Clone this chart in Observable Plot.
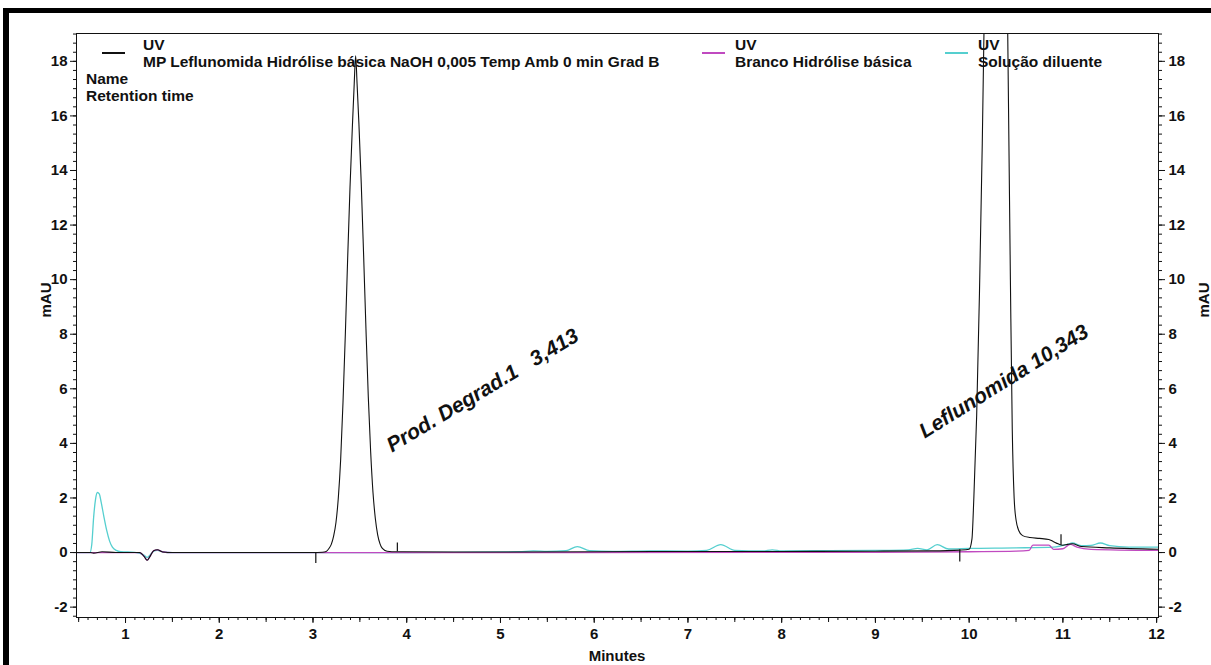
<!DOCTYPE html>
<html>
<head>
<meta charset="utf-8">
<script src="https://cdn.jsdelivr.net/npm/d3@7"></script>
<script src="https://cdn.jsdelivr.net/npm/@observablehq/plot@0.6"></script>
<style>
  html, body { margin: 0; padding: 0; background: #fff; }
  #wrap { position: relative; width: 1211px; height: 665px; overflow: hidden; font-family: "Liberation Sans", Arial, sans-serif; font-weight: bold; }
  .ov { position: absolute; font-size: 15.5px; line-height: 17px; color: #111; white-space: nowrap; }
  .sw { position: absolute; height: 2px; width: 23px; }
  .bar { position: absolute; background: #000; }
</style>
</head>
<body>
<div id="wrap"></div>
<script>
// ---- data ----
const seriesNames = ["MP Leflunomida Hidrólise básica NaOH 0,005 Temp Amb 0 min Grad B", "Branco Hidrólise básica", "Solução diluente"];
const seriesColors = ["#111111", "#c04ac0", "#55cfcf"];

// MP Leflunomida (black) : [minutes, mAU]
const traceMP = [
  [0.48,0.0],[0.62,0.0],[0.66,-0.02],[0.75,0.03],[0.9,0.0],[1.15,0.0],[1.2,-0.15],[1.23,-0.28],[1.26,-0.15],[1.3,0.07],[1.34,0.1],[1.4,0.02],[1.5,0.0],
  [2.0,0.0],[2.7,0.0],[3.0,0.0],[3.1,0.01],[3.14,0.04],[3.17,0.15],[3.195,0.3],[3.22,0.6],[3.245,1.1],[3.27,2.0],[3.295,3.4],
  [3.32,5.5],[3.345,8.0],[3.37,10.8],[3.395,13.4],[3.42,15.6],[3.44,17.2],[3.455,18.2],[3.47,17.2],[3.49,15.7],[3.515,13.5],[3.54,10.9],
  [3.565,8.2],[3.59,5.7],[3.615,3.7],[3.64,2.2],[3.665,1.25],[3.69,0.65],[3.715,0.32],[3.74,0.15],[3.79,0.05],[3.9,0.03],
  [4.5,0.02],[5.0,0.02],[6.0,0.03],[7.0,0.04],[8.0,0.04],[9.0,0.05],[9.6,0.06],[9.9,0.09],[10.0,0.12],
  [10.03,0.5],[10.05,2.0],[10.08,5.0],[10.11,9.5],[10.14,15.0],[10.16,19.5],[10.2,32],[10.25,52],[10.285,60],
  [10.32,55],[10.36,38],[10.41,19.5],[10.44,10.0],[10.46,4.5],[10.48,2.0],[10.5,1.2],[10.53,0.8],[10.57,0.62],
  [10.65,0.55],[10.75,0.52],[10.85,0.48],[10.9,0.4],[10.95,0.32],[11.0,0.27],[11.05,0.3],[11.1,0.32],[11.2,0.22],[11.5,0.17],[12.02,0.12]
];
// Branco Hidrólise básica (magenta)
const traceBranco = [
  [0.48,0.0],[1.15,0.0],[1.2,-0.15],[1.23,-0.28],[1.26,-0.15],[1.3,0.07],[1.34,0.1],[1.4,0.02],[1.5,0.0],
  [5.0,0.0],[9.0,0.01],[10.0,0.03],[10.5,0.05],[10.64,0.08],[10.68,0.27],[10.85,0.27],[10.9,0.12],[11.0,0.14],[11.08,0.3],[11.15,0.2],[11.3,0.12],[12.02,0.08]
];
// Solução diluente (cyan)
const traceDiluente = [
  [0.48,0.0],[0.62,0.0],[0.64,0.3],[0.66,1.3],[0.68,1.95],[0.70,2.2],[0.72,2.15],[0.74,1.85],[0.77,1.3],[0.80,0.8],[0.83,0.42],[0.86,0.2],[0.9,0.08],[0.95,0.03],
  [1.1,0.01],[1.2,-0.1],[1.23,-0.18],[1.26,-0.1],[1.3,0.05],[1.34,0.08],[1.4,0.02],[1.5,0.0],
  [2.0,0.0],[3.0,0.0],[4.0,0.0],[4.5,0.01],[5.2,0.03],[5.35,0.06],[5.5,0.04],[5.7,0.07],[5.82,0.22],[5.95,0.07],[6.2,0.04],[6.6,0.06],
  [7.0,0.05],[7.2,0.08],[7.35,0.29],[7.5,0.08],[7.8,0.06],[7.9,0.1],[8.0,0.06],[8.5,0.07],[9.0,0.08],[9.35,0.1],[9.45,0.15],[9.55,0.1],
  [9.66,0.29],[9.78,0.13],[10.0,0.15],[10.5,0.17],[10.9,0.2],[11.05,0.3],[11.1,0.35],[11.2,0.25],[11.3,0.26],[11.4,0.35],[11.5,0.25],[11.7,0.2],[12.02,0.2]
];

// integration marks (black ticks on baseline)
const markTime = [3.03, 3.9, 9.9, 10.98];
const markFrom = [0.0, 0.03, 0.1, 0.27];
const markTo   = [-0.4, 0.35, -0.35, 0.65];

// peak annotations
const peakLabels = ["Prod. Degrad.1\u00a0\u00a0\u00a03,413", "Leflunomida 10,343"];
const peakLabelTime = [4.81, 10.37];
const peakLabelAbs  = [5.94, 6.27];
const peakLabelAngle = [-31, -32];

// axis ticks
const xTicks = [1,2,3,4,5,6,7,8,9,10,11,12];
const yTicks = [-2,0,2,4,6,8,10,12,14,16,18];

// ---- build ----
const traces = [traceMP, traceBranco, traceDiluente];
const lineData = traces.flatMap((tr, i) => tr.map(([t, v]) => ({t, v, s: seriesNames[i]})));
const marks = markTime.map((t, i) => ({t, y1: markFrom[i], y2: markTo[i]}));
const labels = peakLabels.map((text, i) => ({text, t: peakLabelTime[i], v: peakLabelAbs[i], a: peakLabelAngle[i]}));

const xHalf = d3.range(0.5, 12.01, 0.5);
const xMinor = d3.range(5, 121, 1).map(d => d / 10);
const yMinor = d3.range(-7, 58, 1).map(d => d / 3);
const blank = () => "";
const plain = d => String(d);

const chart = Plot.plot({
  width: 1211,
  height: 665,
  marginLeft: 76,
  marginRight: 53,
  marginTop: 33,
  marginBottom: 48,
  style: {fontFamily: "'Liberation Sans', Arial, sans-serif", fontSize: "15px", fontWeight: "bold", background: "transparent", color: "#111"},
  x: {domain: [0.477, 12.02], label: null},
  y: {domain: [-2.38, 19.02], label: null},
  color: {domain: seriesNames, range: seriesColors},
  marks: [
    Plot.axisX(xMinor, {tickSize: 3, tickFormat: blank, label: null}),
    Plot.axisX(xHalf, {tickSize: 5, tickFormat: blank, label: null}),
    Plot.axisX(xTicks, {tickSize: 6, tickPadding: 5, tickFormat: plain, label: null}),
    Plot.axisY(yMinor, {anchor: "left", tickSize: 3, tickFormat: blank, label: null}),
    Plot.axisY(yTicks, {anchor: "left", tickSize: 6, tickPadding: 3, tickFormat: plain, label: null}),
    Plot.axisY(yMinor, {anchor: "right", tickSize: 3, tickFormat: blank, label: null}),
    Plot.axisY(yTicks, {anchor: "right", tickSize: 6, tickPadding: 4, tickFormat: plain, label: null}),
    Plot.line(lineData.filter(d => d.s === seriesNames[2]), {x: "t", y: "v", stroke: "s", strokeWidth: 1.3, curve: "monotone-x", clip: true}),
    Plot.line(lineData.filter(d => d.s === seriesNames[1]), {x: "t", y: "v", stroke: "s", strokeWidth: 1.3, curve: "monotone-x", clip: true}),
    Plot.line(lineData.filter(d => d.s === seriesNames[0]), {x: "t", y: "v", stroke: "s", strokeWidth: 1.1, curve: "monotone-x", clip: true}),
    Plot.ruleX(marks, {x: "t", y1: "y1", y2: "y2", stroke: "#111", strokeWidth: 1.2}),
    Plot.text(labels, {x: "t", y: "v", text: "text", rotate: "a", fontSize: 21, fontStyle: "italic", fontWeight: "bold", fill: "#111"}),
    Plot.frame({stroke: "#111", strokeWidth: 1})
  ]
});

const wrap = document.getElementById("wrap");
wrap.appendChild(chart);
chart.style.position = "absolute";
chart.style.left = "0px";
chart.style.top = "0px";

function addDiv(cls, css, text) {
  const d = document.createElement("div");
  d.className = cls;
  Object.assign(d.style, css);
  if (text != null) d.textContent = text;
  wrap.appendChild(d);
  return d;
}
// black frame of the screenshot
addDiv("bar", {left: "3px", top: "8px", width: "1208px", height: "5px"});
addDiv("bar", {left: "3px", top: "8px", width: "6px", height: "657px"});

// legend
const legendX = [{sw: 102, tx: 143}, {sw: 702, tx: 735}, {sw: 945, tx: 978}];
legendX.forEach((p, i) => {
  addDiv("sw", {left: p.sw + "px", top: "52px", background: seriesColors[i]});
  addDiv("ov", {left: p.tx + "px", top: "36px"}, "UV");
  addDiv("ov", {left: p.tx + "px", top: "53px"}, seriesNames[i]);
});
addDiv("ov", {left: "86px", top: "70px"}, "Name");
addDiv("ov", {left: "86px", top: "87px"}, "Retention time");

// axis titles
addDiv("ov", {left: "617px", top: "647px", transform: "translateX(-50%)", fontSize: "15px"}, "Minutes");
addDiv("ov", {left: "45px", top: "300px", transform: "translate(-50%,-50%) rotate(-90deg)", fontSize: "15px"}, "mAU");
addDiv("ov", {left: "1203px", top: "300px", transform: "translate(-50%,-50%) rotate(-90deg)", fontSize: "15px"}, "mAU");
</script>
</body>
</html>
